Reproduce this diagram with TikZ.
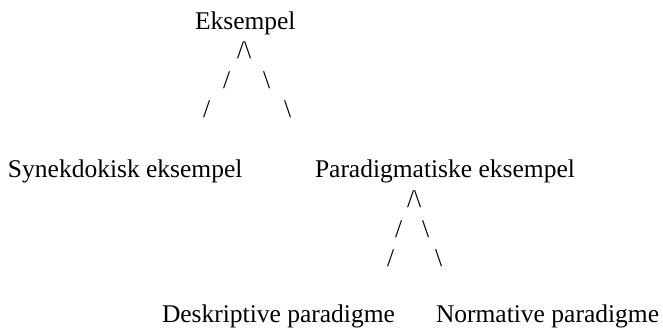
\documentclass[tikz,border=0pt]{standalone}
\usepackage{fontspec}
\setmainfont{Liberation Serif}
\begin{document}
\begin{tikzpicture}[x=1pt,y=-1pt,
  txt/.style={anchor=base west, inner sep=0pt, outer sep=0pt,
              font=\fontsize{25.5}{30}\selectfont}]
  \fill[white] (0,0) rectangle (663,331);
  \useasboundingbox (0,0) rectangle (663,331);

  % upper tree
  \node[txt] (root) at (195,30) {Eksempel};
  \node[txt] (r1)  at (237,59) {/\textbackslash};
  \node[txt] (r2l) at (223,89) {/};
  \node[txt] (r2r) at (263,89) {\textbackslash};
  \node[txt] (r3l) at (203,118) {/};
  \node[txt] (r3r) at (284,118) {\textbackslash};

  \node[txt] (syn) at (8,177) {Synekdokisk eksempel};
  \node[txt] (par) at (315,177) {Paradigmatiske eksempel};

  % lower tree
  \node[txt] (p1)  at (407,207.5) {/\textbackslash};
  \node[txt] (p2l) at (395,237.5) {/};
  \node[txt] (p2r) at (422,237.5) {\textbackslash};
  \node[txt] (p3l) at (387,266.5) {/};
  \node[txt] (p3r) at (435,266.5) {\textbackslash};

  \node[txt] (des) at (162,322) {Deskriptive paradigme};
  \node[txt] (nor) at (436,322) {Normative paradigme};
\end{tikzpicture}
\end{document}
